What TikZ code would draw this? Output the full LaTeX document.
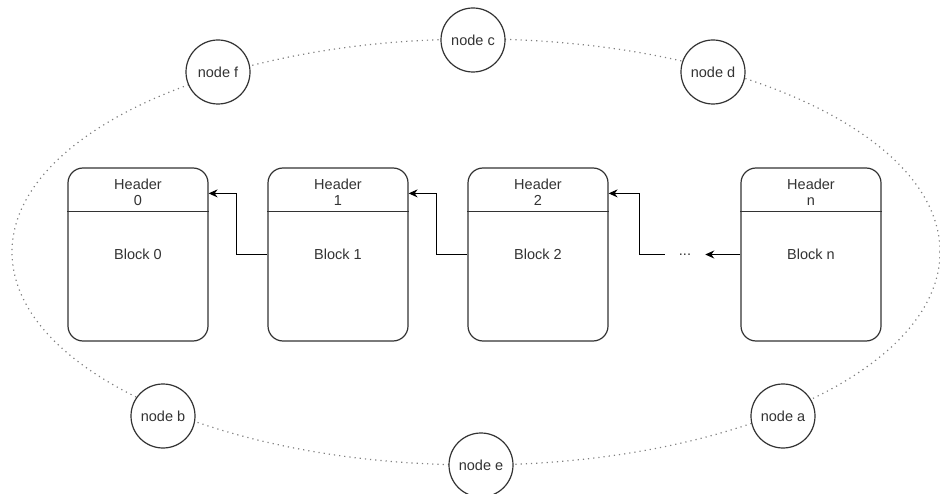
\documentclass[tikz,border=0pt]{standalone}
\usepackage{fontspec}
\setmainfont{Liberation Sans}
\usetikzlibrary{arrows.meta,positioning}
\definecolor{ink}{HTML}{333333}

\tikzset{
  block/.style={draw=ink, line width=1.2pt, rounded corners=15pt,
                minimum width=140pt, minimum height=173pt, fill=white},
  hdr/.style={align=center, inner sep=0pt},
  peer/.style={circle, draw=ink, line width=1.2pt, fill=white,
               minimum size=64pt, inner sep=0pt},
  link/.style={draw=black, line width=1pt, -{Stealth[length=9pt,width=8pt]}},
  ring/.style={gray, line width=1.2pt, dash pattern=on 1.2pt off 4pt}
}

\begin{document}
\begin{tikzpicture}[x=1pt, y=-1pt, font=\fontsize{14.5}{16}\selectfont, text=ink]
\useasboundingbox (0,0) rectangle (940,494);

% the peer ring, behind everything
\draw[ring] (476,252) ellipse [x radius=464, y radius=213];

% peers on the ring
\node[peer] (pc) at (473,40) {node c};
\node[peer] (pd) at (713,72) {node d};
\node[peer] (pf) at (218,72) {node f};
\node[peer] (pb) at (163,416) {node b};
\node[peer] (pe) at (481,465) {node e};
\node[peer] (pa) at (783,416) {node a};

% the chain of blocks
\node[block] (b0) at (138,254.5) {Block 0};
\node[block] (b1) at (338,254.5) {Block 1};
\node[block] (b2) at (538,254.5) {Block 2};
\node[block] (bn) at (811,254.5) {Block n};
\node[inner xsep=14pt, minimum height=16pt] (dots) at (685,254.5) {...};

% header rows
\foreach \b/\t in {b0/0, b1/1, b2/2, bn/n}{
  \draw[ink, line width=1.2pt] ([yshift=-44pt]\b.north west) -- ([yshift=-44pt]\b.north east);
  \node[hdr] (h\b) at ([yshift=-25pt]\b.north) {Header\\\t};
}

% back links
\draw[link] (b1.west) -- ++(-30.5,0) |- ([yshift=-26pt]b0.north east);
\draw[link] (b2.west) -- ++(-30.5,0) |- ([yshift=-26pt]b1.north east);
\draw[link] (dots.west) -- ++(-25.5,0) |- ([yshift=-26pt]b2.north east);
\draw[link] (bn.west) -- (dots.east);

\end{tikzpicture}
\end{document}
